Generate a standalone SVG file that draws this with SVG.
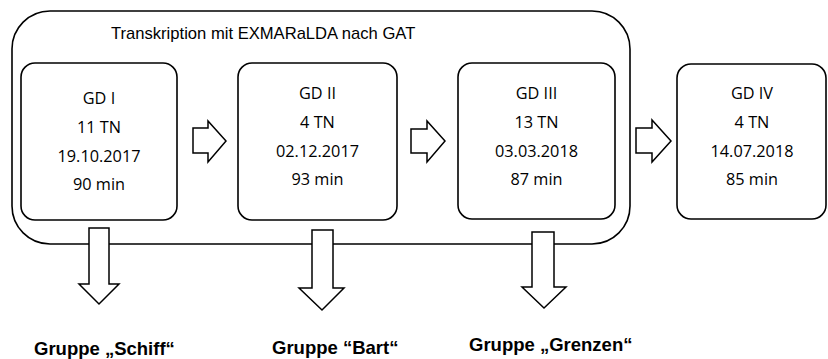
<svg xmlns="http://www.w3.org/2000/svg" width="828" height="359" viewBox="0 0 828 359">
<style>
.frame{fill:#fff;stroke:#000;stroke-width:1.6}
.box{fill:#fff;stroke:#000;stroke-width:1.6}
.arr{fill:#fff;stroke:#000;stroke-width:1.5;stroke-linejoin:miter}
.t{font-family:"Open Sans","Noto Sans",sans-serif;font-size:16.3px;fill:#000;text-anchor:middle}
.title{font-family:"Liberation Sans",Arial,sans-serif;font-size:16.6px;fill:#000}
.lbl{font-family:"Liberation Sans",Arial,sans-serif;font-size:18.5px;font-weight:bold;fill:#000}
</style>
<rect width="828" height="359" fill="#fff"/>
<g id="container">
<rect class="frame" x="12" y="11" width="618" height="233" rx="38" ry="38"/>
<text class="title" x="111" y="39">Transkription mit EXMARaLDA nach GAT</text>
</g>
<g id="gd1">
<rect class="box" x="21" y="63" width="156" height="157" rx="14" ry="14"/>
<text class="t" x="99" y="104">GD I</text>
<text class="t" x="99" y="133">11 TN</text>
<text class="t" x="99" y="162">19.10.2017</text>
<text class="t" x="99" y="190">90 min</text>
</g>
<g id="gd2">
<rect class="box" x="238" y="63" width="159" height="157" rx="14" ry="14"/>
<text class="t" x="317.5" y="99">GD II</text>
<text class="t" x="317.5" y="128">4 TN</text>
<text class="t" x="317.5" y="157">02.12.2017</text>
<text class="t" x="317.5" y="185">93 min</text>
</g>
<g id="gd3">
<rect class="box" x="458" y="63" width="157" height="156" rx="14" ry="14"/>
<text class="t" x="536.5" y="99">GD III</text>
<text class="t" x="536.5" y="128">13 TN</text>
<text class="t" x="536.5" y="157">03.03.2018</text>
<text class="t" x="536.5" y="185">87 min</text>
</g>
<g id="gd4">
<rect class="box" x="677" y="64" width="149" height="155" rx="14" ry="14"/>
<text class="t" x="752" y="99">GD IV</text>
<text class="t" x="752" y="128">4 TN</text>
<text class="t" x="752" y="157">14.07.2018</text>
<text class="t" x="752" y="185">85 min</text>
</g>
<g id="group-schiff"><text class="lbl" x="34" y="354.5">Gruppe „Schiff“</text></g>
<g id="group-bart"><text class="lbl" x="272" y="354">Gruppe “Bart“</text></g>
<g id="group-grenzen"><text class="lbl" x="469" y="351">Gruppe „Grenzen“</text></g>
<g id="connectors">
<polygon class="arr" points="193,128 208,128 208,121 226,141 208,162 208,153 193,153"/>
<polygon class="arr" points="411,129 427,129 427,121 445,141 427,162 427,153 411,153"/>
<polygon class="arr" points="636,128 652,128 652,120 671,141 652,162 652,153 636,153"/>
<polygon class="arr" points="89,228 109,228 109,284 119,284 99,304 79,284 89,284"/>
<polygon class="arr" points="312,230 333,230 333,288 344,288 322,310 299,288 312,288"/>
<polygon class="arr" points="532,232 554,232 554,287 566,287 544,308 522,287 532,287"/>
</g>
</svg>
